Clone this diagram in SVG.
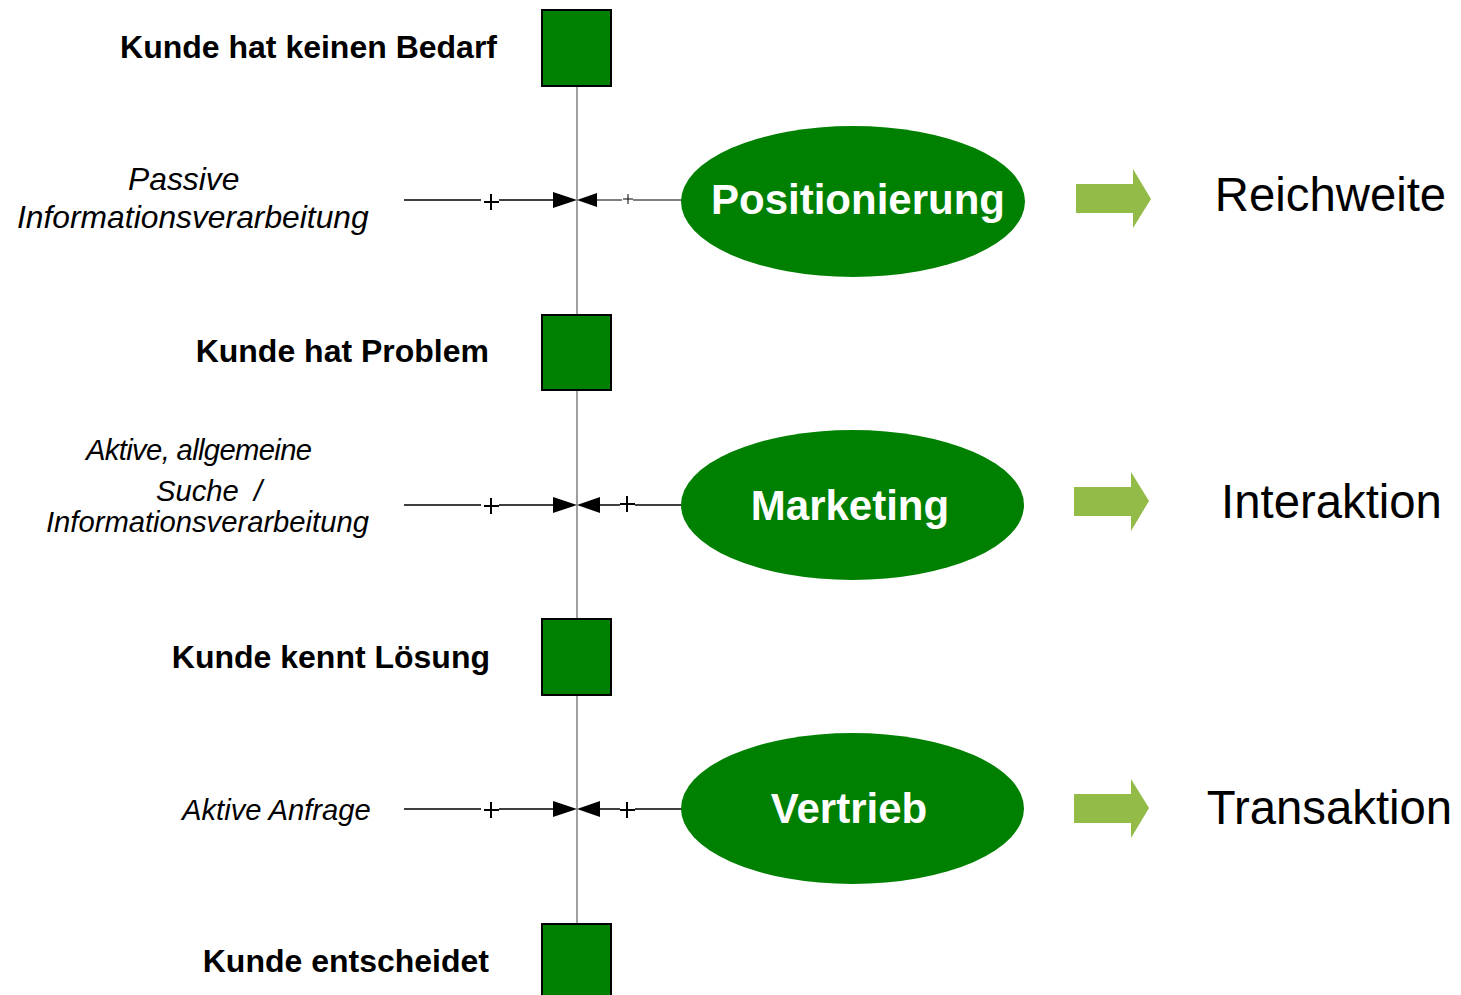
<svg xmlns="http://www.w3.org/2000/svg" width="1461" height="995" viewBox="0 0 1461 995">
<defs>
<style>
.sq{fill:#008000;stroke:#000;stroke-width:2}
.el{fill:#008000}
.bold{font-family:"Liberation Sans",Arial,sans-serif;font-weight:bold;font-size:32px;fill:#000;text-anchor:end}
.ital{font-family:"Liberation Sans",Arial,sans-serif;font-style:italic;font-size:29.2px;fill:#000}
.ital.big{font-size:31.8px}
.eltx{font-family:"Liberation Sans",Arial,sans-serif;font-weight:bold;font-size:42px;fill:#fff;text-anchor:middle}
.res{font-family:"Liberation Sans",Arial,sans-serif;font-size:47.3px;fill:#000;text-anchor:middle}
.ln{stroke:#000;stroke-width:1.6;fill:none}
.thin{stroke:#000;stroke-width:1;fill:none}
.plus{stroke:#000;stroke-width:2;fill:none}
.ah{fill:#000}
.garr{fill:#92BB48}
</style>
</defs>
<rect width="1461" height="995" fill="#fff"/>
<g id="connectors">
<line x1="577" y1="86" x2="577" y2="923" stroke="#a0a0a0" stroke-width="2"/>
<path class="ln" d="M404 200H481M499 200H555"/>
<path class="plus" d="M484 202H499M491 194V210"/>
<polygon class="ah" points="553,192 577,200 553,208"/>
<polygon class="ah" points="597,193 577,200 597,207"/>
<path class="thin" d="M597 200H622M633 200H682"/>
<path class="thin" d="M623 199H633M628 194V204" stroke-width="1.5"/>
<path class="ln" d="M404 505H481M499 505H555"/>
<path class="plus" d="M484 506H499M491 498V514"/>
<polygon class="ah" points="553,497 577,505 553,513"/>
<polygon class="ah" points="600,497 577,505 600,513"/>
<path class="ln" d="M600 505H620M635 505H682"/>
<path class="plus" d="M620 504H635M627 496V512"/>
<path class="ln" d="M404 809H481M499 809H555"/>
<path class="plus" d="M484 810H499M491 802V818"/>
<polygon class="ah" points="553,801 577,809 553,817"/>
<polygon class="ah" points="600,801 577,809 600,817"/>
<path class="ln" d="M600 809H620M635 809H682"/>
<path class="plus" d="M620 810H635M627 802V818"/>
</g>
<g id="n-bedarf">
<rect class="sq" x="542" y="10" width="69" height="76"/>
<text class="bold" x="497" y="58">Kunde hat keinen Bedarf</text>
</g>
<g id="n-problem">
<rect class="sq" x="542" y="315" width="69" height="75"/>
<text class="bold" x="489" y="362">Kunde hat Problem</text>
</g>
<g id="n-loesung">
<rect class="sq" x="542" y="619" width="69" height="76"/>
<text class="bold" x="490" y="668">Kunde kennt Lösung</text>
</g>
<g id="n-entscheidet">
<rect class="sq" x="542" y="924" width="69" height="80"/>
<text class="bold" x="489" y="972">Kunde entscheidet</text>
</g>
<g id="l-passive">
<text class="ital big" x="128" y="190">Passive</text>
<text class="ital big" x="17" y="228">Informationsverarbeitung</text>
</g>
<g id="l-aktiv">
<text class="ital" x="86" y="460" textLength="226" lengthAdjust="spacing">Aktive, allgemeine</text>
<text class="ital" x="156" y="501">Suche <tspan dx="7">/</tspan></text>
<text class="ital" x="46" y="532">Informationsverarbeitung</text>
</g>
<g id="l-anfrage">
<text class="ital" x="182" y="820">Aktive Anfrage</text>
</g>
<g id="n-positionierung">
<ellipse class="el" cx="853" cy="201.5" rx="172" ry="75.5"/>
<text class="eltx" x="858" y="214">Positionierung</text>
</g>
<g id="n-marketing">
<ellipse class="el" cx="852.5" cy="505" rx="171.5" ry="75"/>
<text class="eltx" x="850" y="520">Marketing</text>
</g>
<g id="n-vertrieb">
<ellipse class="el" cx="852.5" cy="808.5" rx="171.5" ry="75.5"/>
<text class="eltx" x="849" y="823">Vertrieb</text>
</g>
<g id="a-reichweite">
<polygon class="garr" points="1076,184 1133,184 1133,169 1151,199 1133,228 1133,213 1076,213"/>
<text class="res" x="1330.5" y="211">Reichweite</text>
</g>
<g id="a-interaktion">
<polygon class="garr" points="1074,487 1131,487 1131,472 1149,501 1131,531 1131,516 1074,516"/>
<text class="res" x="1331.5" y="518">Interaktion</text>
</g>
<g id="a-transaktion">
<polygon class="garr" points="1074,794 1131,794 1131,779 1149,808 1131,838 1131,823 1074,823"/>
<text class="res" x="1329.5" y="824">Transaktion</text>
</g>
</svg>
